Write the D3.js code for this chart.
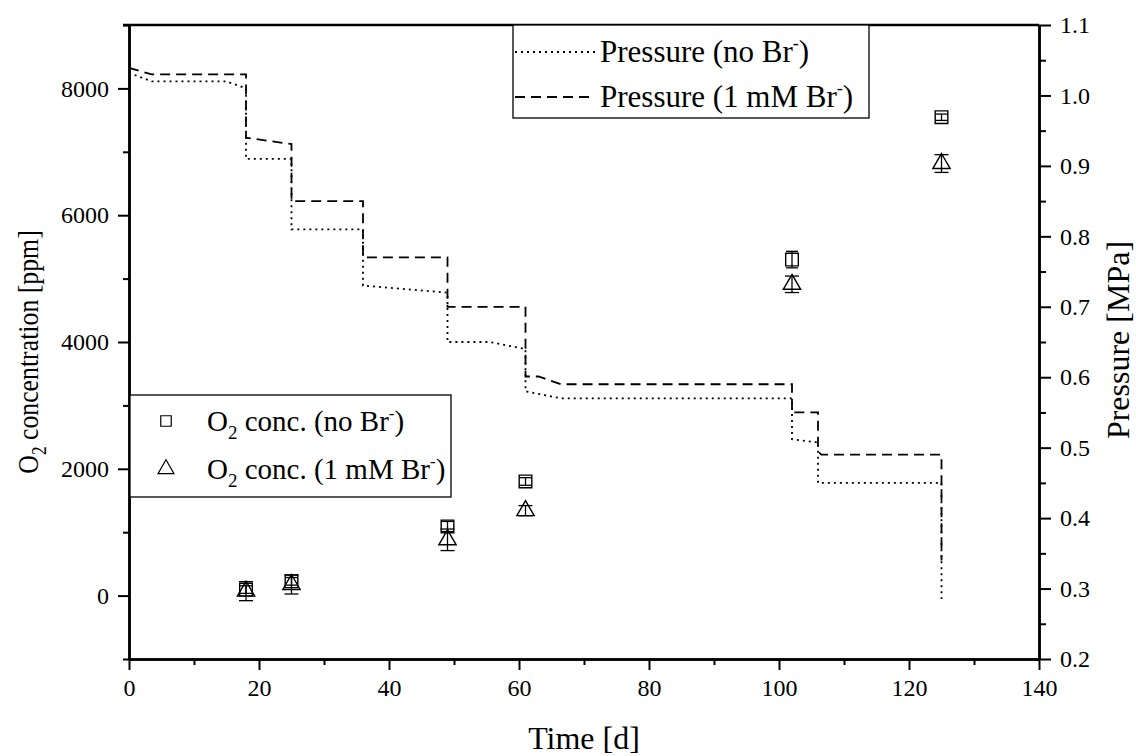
<!DOCTYPE html>
<html>
  <head>
    <meta charset="UTF-8">
    <title>O2 concentration and pressure</title>
    <style>
      body { margin: 0; background: #fff; }
      text { font-family: "Liberation Serif", "Times New Roman", serif; fill: #000; }
    </style>
  </head>
  <body>
    <script src="https://d3js.org/d3.v7.min.js"></script>
    <svg width="1136" height="756" id="chart"></svg>
    <script>

      // O2 measurements (left axis)
      var days = [18, 25, 49, 61, 102, 125];
      var o2NoBr = [95, 225, 1090, 1800, 5300, 7545];
      var o2NoBrErr = [60, 60, 80, 60, 130, 50];
      var o2Br = [70, 175, 880, 1340, 4910, 6815];
      var o2BrErr = [150, 150, 170, 80, 130, 140];

      // pressure traces (right axis)
      var pDayNoBr = [0, 3.5, 15, 18, 18, 25, 25, 36, 36, 49, 49, 55.5, 61, 61, 66.5, 102, 102, 105.5, 106, 106, 125, 125];
      var pNoBr = [1.032, 1.02, 1.02, 1.01, 0.91, 0.91, 0.81, 0.81, 0.73, 0.72, 0.65, 0.65, 0.64, 0.58, 0.57, 0.57, 0.512, 0.508, 0.508, 0.45, 0.45, 0.285];
      var pDayBr = [0, 3.5, 18, 18, 25, 25, 36, 36, 49, 49, 61, 61, 63, 66.5, 102, 102, 106, 106, 106.5, 125, 125];
      var pBr = [1.039, 1.03, 1.03, 0.94, 0.931, 0.85, 0.85, 0.77, 0.77, 0.70, 0.70, 0.601, 0.601, 0.59, 0.59, 0.55, 0.55, 0.495, 0.49, 0.49, 0.34];

      // ticks
      var xTicks = [0, 20, 40, 60, 80, 100, 120, 140];
      var xMinor = [10, 30, 50, 70, 90, 110, 130];
      var yTicks = [0, 2000, 4000, 6000, 8000];
      var yMinor = [-1000, 1000, 3000, 5000, 7000, 9000];
      var pTicks = [0.2, 0.3, 0.4, 0.5, 0.6, 0.7, 0.8, 0.9, 1.0, 1.1];
      var pMinor = [0.25, 0.35, 0.45, 0.55, 0.65, 0.75, 0.85, 0.95, 1.05];

      var svg = d3.select("#chart");
      var pl = 129, pr = 1039, pt = 25, pb = 659;

      var x = d3.scaleLinear().domain([0, 140]).range([pl, pr]);
      var y = d3.scaleLinear().domain([-1000, 9000]).range([pb, pt]);
      var yp = d3.scaleLinear().domain([0.2, 1.1]).range([pb, pt]);

      function styleAxis(g) {
        g.select(".domain").attr("stroke", "#000").attr("stroke-width", 2.5);
        g.selectAll(".tick line").attr("stroke", "#000").attr("stroke-width", 2);
        g.selectAll(".tick text").style("font-size", "24px").style("font-family", "Liberation Serif");
      }

      // minor ticks first
      svg.append("g").attr("transform", "translate(0," + pb + ")")
        .call(d3.axisBottom(x).tickValues(xMinor).tickFormat("").tickSize(6).tickSizeOuter(0)).call(styleAxis);
      svg.append("g").attr("transform", "translate(" + pl + ",0)")
        .call(d3.axisLeft(y).tickValues(yMinor).tickFormat("").tickSize(6).tickSizeOuter(0)).call(styleAxis);
      svg.append("g").attr("transform", "translate(" + pr + ",0)")
        .call(d3.axisRight(yp).tickValues(pMinor).tickFormat("").tickSize(7).tickSizeOuter(0)).call(styleAxis);

      // major ticks
      svg.append("g").attr("transform", "translate(0," + pb + ")")
        .call(d3.axisBottom(x).tickValues(xTicks).tickFormat(d3.format("d")).tickSize(11).tickSizeOuter(0).tickPadding(9))
        .call(styleAxis);
      svg.append("g").attr("transform", "translate(" + pl + ",0)")
        .call(d3.axisLeft(y).tickValues(yTicks).tickFormat(d3.format("d")).tickSize(11).tickSizeOuter(0).tickPadding(9))
        .call(styleAxis);
      svg.append("g").attr("transform", "translate(" + pr + ",0)")
        .call(d3.axisRight(yp).tickValues(pTicks).tickFormat(d3.format(".1f")).tickSize(12).tickSizeOuter(0).tickPadding(9))
        .call(styleAxis);

      // top frame line
      svg.append("line")
        .attr("x1", pl - 6).attr("x2", pr)
        .attr("y1", pt).attr("y2", pt)
        .attr("stroke", "#000").attr("stroke-width", 2.5);

      // pressure lines
      var line = d3.line()
        .x(function(d) { return x(d[0]); })
        .y(function(d) { return yp(d[1]); });

      svg.append("path")
        .datum(d3.zip(pDayNoBr, pNoBr))
        .attr("fill", "none")
        .attr("stroke", "#000")
        .attr("stroke-width", 1.8)
        .attr("stroke-dasharray", "2,4")
        .attr("d", line);

      svg.append("path")
        .datum(d3.zip(pDayBr, pBr))
        .attr("fill", "none")
        .attr("stroke", "#000")
        .attr("stroke-width", 1.8)
        .attr("stroke-dasharray", "10,6")
        .attr("d", line);

      // error bars + markers
      function errorBars(vals, errs, w) {
        var g = svg.append("g");
        days.forEach(function(d, i) {
          var cx = x(d), lo = y(vals[i] - errs[i]), hi = y(vals[i] + errs[i]);
          g.append("line").attr("x1", cx).attr("x2", cx).attr("y1", lo).attr("y2", hi)
            .attr("stroke", "#000").attr("stroke-width", 1.3);
          [lo, hi].forEach(function(yy) {
            g.append("line").attr("x1", cx - w / 2).attr("x2", cx + w / 2).attr("y1", yy).attr("y2", yy)
              .attr("stroke", "#000").attr("stroke-width", 1.3);
          });
        });
      }
      errorBars(o2NoBr, o2NoBrErr, 12);
      errorBars(o2Br, o2BrErr, 14);

      var sq = d3.symbol().type(d3.symbolSquare).size(160);
      var tri = d3.symbol().type(d3.symbolTriangle).size(130);

      svg.append("g").selectAll("path")
        .data(days)
        .enter().append("path")
        .attr("d", sq)
        .attr("transform", function(d, i) { return "translate(" + x(d) + "," + y(o2NoBr[i]) + ")"; })
        .attr("fill", "none").attr("stroke", "#000").attr("stroke-width", 1.4);

      svg.append("g").selectAll("path")
        .data(days)
        .enter().append("path")
        .attr("d", tri)
        .attr("transform", function(d, i) { return "translate(" + x(d) + "," + y(o2Br[i]) + ")"; })
        .attr("fill", "none").attr("stroke", "#000").attr("stroke-width", 1.4);

      // axis titles
      var yt = svg.append("text")
        .attr("transform", "translate(38,352) rotate(-90) scale(0.86,1)")
        .attr("text-anchor", "middle")
        .style("font-size", "30px");
      yt.append("tspan").text("O");
      yt.append("tspan").attr("dy", 8).style("font-size", "20px").text("2");
      yt.append("tspan").attr("dy", -8).text(" concentration [ppm]");

      svg.append("text")
        .attr("transform", "translate(1129,340) rotate(-90)")
        .attr("text-anchor", "middle")
        .style("font-size", "32px")
        .text("Pressure [MPa]");

      svg.append("text")
        .attr("x", (pl + pr) / 2).attr("y", 749)
        .attr("text-anchor", "middle")
        .style("font-size", "32px")
        .text("Time [d]");

      // legend: pressure
      var lp = svg.append("g");
      lp.append("rect").attr("x", 513).attr("y", 25).attr("width", 356).attr("height", 93)
        .attr("fill", "#fff").attr("stroke", "#000").attr("stroke-width", 1.3);
      var pLeg = [{ label: "Pressure (no Br", dash: "2,4" }, { label: "Pressure (1 mM Br", dash: "10,6" }];
      pLeg.forEach(function(d, i) {
        var yy = 52 + i * 45;
        lp.append("line").attr("x1", 515).attr("x2", 595).attr("y1", yy).attr("y2", yy)
          .attr("stroke", "#000").attr("stroke-width", 1.8).attr("stroke-dasharray", d.dash);
        var t = lp.append("text").attr("x", 600).attr("y", yy + 10).style("font-size", "31px");
        t.append("tspan").text(d.label);
        t.append("tspan").attr("dy", -13).style("font-size", "18px").text("-");
        t.append("tspan").attr("dy", 13).text(")");
      });

      // legend: O2
      var lo = svg.append("g");
      lo.append("rect").attr("x", 130).attr("y", 395).attr("width", 321).attr("height", 102)
        .attr("fill", "#fff").attr("stroke", "#000").attr("stroke-width", 1.3);
      var oLeg = [{ label: " conc. (no Br", sym: d3.symbolSquare, size: 110 }, { label: " conc. (1 mM Br", sym: d3.symbolTriangle, size: 110 }];
      oLeg.forEach(function(d, i) {
        var yy = 421 + i * 48;
        lo.append("path").attr("d", d3.symbol().type(d.sym).size(d.size))
          .attr("transform", "translate(166," + yy + ")")
          .attr("fill", "none").attr("stroke", "#000").attr("stroke-width", 1.2);
        var t = lo.append("text").attr("x", 207).attr("y", yy + 10).style("font-size", "29px");
        t.append("tspan").text("O");
        t.append("tspan").attr("dy", 8).style("font-size", "19px").text("2");
        t.append("tspan").attr("dy", -8).text(d.label);
        t.append("tspan").attr("dy", -12).style("font-size", "17px").text("-");
        t.append("tspan").attr("dy", 12).text(")");
      });
    </script>
  </body>
</html>
